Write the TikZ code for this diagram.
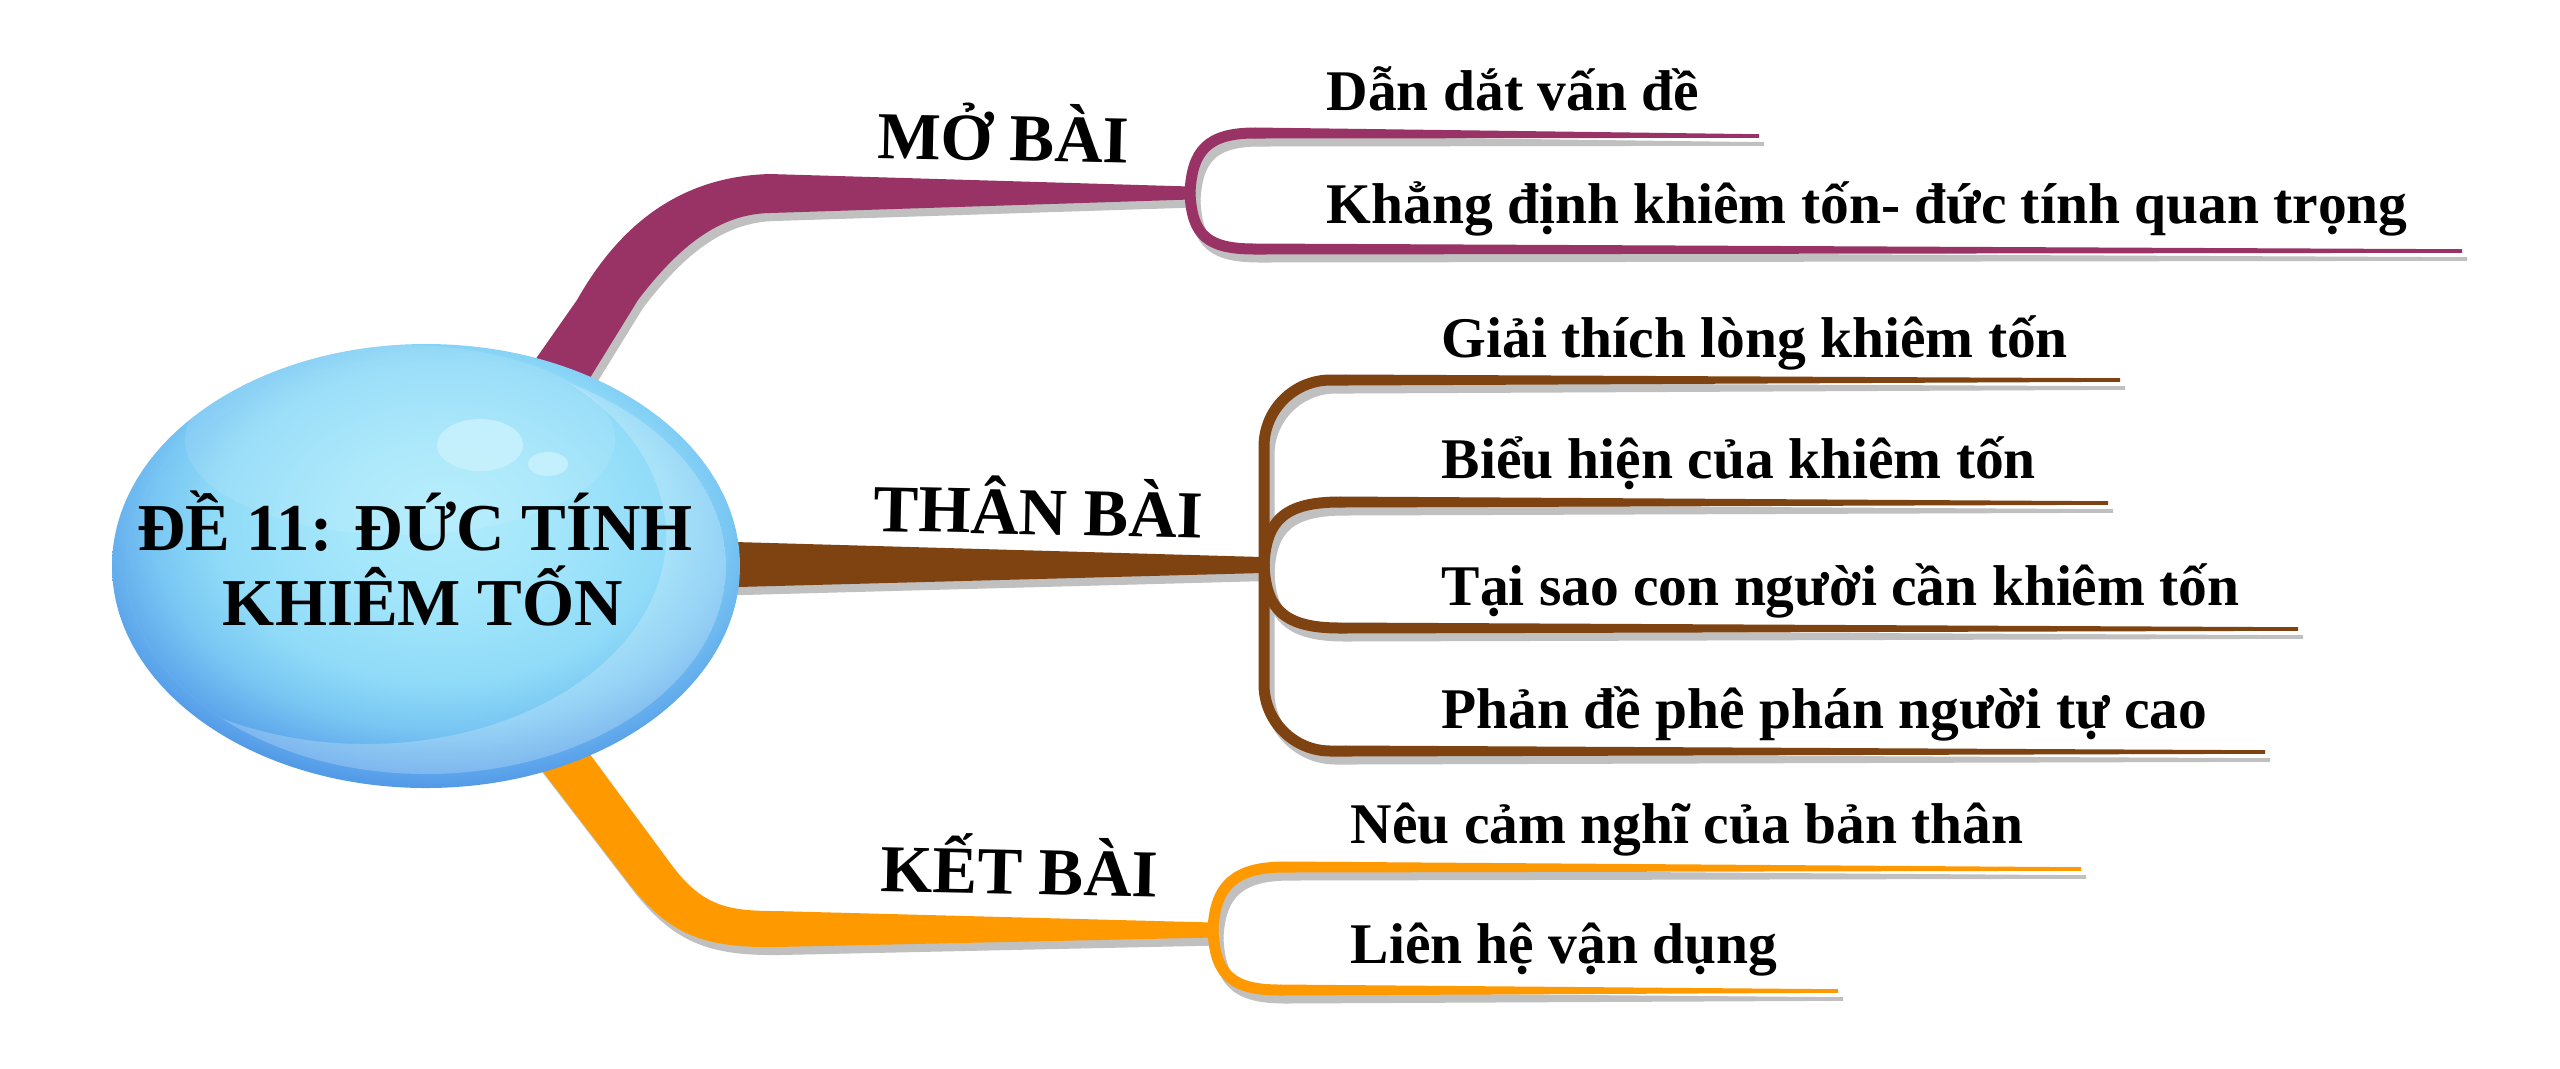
\documentclass[tikz,border=0pt]{standalone}
\usepackage{fontspec}
\setmainfont{Liberation Serif}
\usetikzlibrary{shapes.geometric,calc}
\definecolor{mag}{HTML}{993366}
\definecolor{brn}{HTML}{7F4311}
\definecolor{org}{HTML}{FF9900}
\definecolor{shd}{HTML}{C0C0C0}
\definecolor{hA}{HTML}{B0ECFC}
\definecolor{hB}{HTML}{A3E6FB}
\definecolor{hC}{HTML}{90DBF8}
\definecolor{hD}{HTML}{78C6F3}
\definecolor{hE}{HTML}{5AA2EA}
\definecolor{hF}{HTML}{3C80DD}
\definecolor{hl}{HTML}{C8F2FD}
\pgfdeclareradialshading{hubshade}{\pgfpoint{1.5bp}{6bp}}{color(0bp)=(hA); color(9bp)=(hB); color(18bp)=(hC); color(23bp)=(hD); color(28bp)=(hE); color(33bp)=(hF); color(100bp)=(hF)}
\tikzset{
  hubtxt/.style={font=\fontsize{20.1}{22}\selectfont\bfseries, inner sep=0pt, anchor=base},
  brtxt/.style={font=\fontsize{20.1}{22}\selectfont\bfseries, inner sep=0pt, anchor=base west, rotate=-1.2},
  subtxt/.style={font=\fontsize{17.25}{20}\selectfont\bfseries, inner sep=0pt, anchor=base west},
  shadowlayer/.style={transform canvas={shift={(1.5pt,-2.4pt)}}},
}
% #1 colour, #2 fork, #3 path between, #4 start of straight part, #5 end
\newcommand\subln[5]{%
  \draw[#1, line width=3.3pt, line cap=round] (#2) #3 (#4);
  \fill[#1] ($(#4)+(0,-5.5)$) -- ($(#5)+(0,-1.8)$) -- ($(#5)+(0,1.8)$) -- ($(#4)+(0,5.5)$) -- cycle;
}
\newcommand\allbranches[3]{%
  % MO BAI band
  \fill[#1] (500,410) -- (577,300) .. controls (625,215) and (690,176) .. (770,174)
     -- ($(F1)+(0,-6.5)$) -- ($(F1)+(0,6.5)$) -- (770,213)
     .. controls (720,214) and (680,245) .. (638,300) -- (564,420) -- cycle;
  \subln{#1}{F1}{.. controls (1192,150) and (1208,133) ..}{m1a}{m1b}
  \subln{#1}{F1}{.. controls (1192,236) and (1208,249) ..}{m2a}{m2b}
  % THAN BAI band
  \fill[#2] (700,541) -- ($(F2)+(-2,-8)$) -- ($(F2)+(-2,8)$) -- (700,588) -- cycle;
  \subln{#2}{F2}{[rounded corners=20pt] -- (1264,380) --}{t1a}{t1b}
  \subln{#2}{F2}{.. controls (1266,520) and (1285,502) ..}{t2a}{t2b}
  \subln{#2}{F2}{.. controls (1266,610) and (1285,628) ..}{t3a}{t3b}
  \subln{#2}{F2}{[rounded corners=20pt] -- (1264,751) --}{t4a}{t4b}
  % KET BAI band
  \fill[#3] (550,700) -- (668,860) .. controls (700,905) and (725,911) .. (775,911)
     -- ($(F3)+(0,-7.5)$) -- ($(F3)+(0,7.5)$) -- (775,947)
     .. controls (705,948) and (670,935) .. (630,885) -- (488,700) -- cycle;
  \subln{#3}{F3}{.. controls (1215,885) and (1235,867) ..}{k1a}{k1b}
  \subln{#3}{F3}{.. controls (1215,975) and (1232,990) ..}{k2a}{k2b}
}
\begin{document}
\begin{tikzpicture}[x=0.3pt,y=-0.3pt]
\useasboundingbox (0,0) rectangle (2560,1068);
\fill[white] (0,0) rectangle (2560,1068);
% forks and line ends
\coordinate (F1) at (1190,193);
\coordinate (m1a) at (1255,133); \coordinate (m1b) at (1759,136);
\coordinate (m2a) at (1255,249); \coordinate (m2b) at (2462,251);
\coordinate (F2) at (1264,565);
\coordinate (t1a) at (1345,380); \coordinate (t1b) at (2120,380);
\coordinate (t2a) at (1340,502); \coordinate (t2b) at (2108,503);
\coordinate (t3a) at (1340,628); \coordinate (t3b) at (2298,629);
\coordinate (t4a) at (1345,751); \coordinate (t4b) at (2265,752);
\coordinate (F3) at (1213,930);
\coordinate (k1a) at (1285,867); \coordinate (k1b) at (2081,869);
\coordinate (k2a) at (1280,990); \coordinate (k2b) at (1838,991);
% shadows
\begin{scope}[shadowlayer]
  \allbranches{shd}{shd}{shd}
\end{scope}
% coloured branches
\allbranches{mag}{brn}{org}
% central bubble
\node[ellipse, minimum width=188.4pt, minimum height=133.2pt, inner sep=0pt, shading=hubshade] (hub) at (426,566) {};
\begin{scope}
  \clip (426,566) ellipse [x radius=314, y radius=222];
  \fill[white, opacity=0.10] (400,440) ellipse [x radius=215, y radius=95];
  \begin{scope}
    \clip (426,566) ellipse [x radius=300, y radius=208];
    \fill[white, opacity=0.22, even odd rule] (426,566) ellipse [x radius=300, y radius=208]
      (366,536) ellipse [x radius=300, y radius=208];
  \end{scope}
  \fill[hl, opacity=0.85] (480,445) ellipse [x radius=43, y radius=26];
  \fill[hl, opacity=0.85] (548,464) ellipse [x radius=20, y radius=12];
\end{scope}
\node[hubtxt] (title1) at (415,550) {ĐỀ 11: ĐỨC TÍNH};
\node[hubtxt] (title2) at (423,625) {KHIÊM TỐN};
% branch labels
\node[brtxt] (mo) at (877,158) {MỞ BÀI};
\node[brtxt] (than) at (873,531) {THÂN BÀI};
\node[brtxt] (ket) at (880,891) {KẾT BÀI};
% sub labels
\node[subtxt] (s1) at (1326,110) {Dẫn dắt vấn đề};
\node[subtxt] (s2) at (1326,223) {Khẳng định khiêm tốn- đức tính quan trọng};
\node[subtxt] (s3) at (1441,357) {Giải thích lòng khiêm tốn};
\node[subtxt] (s4) at (1441,478) {Biểu hiện của khiêm tốn};
\node[subtxt] (s5) at (1441,605) {Tại sao con người cần khiêm tốn};
\node[subtxt] (s6) at (1441,728) {Phản đề phê phán người tự cao};
\node[subtxt] (s7) at (1350,843) {Nêu cảm nghĩ của bản thân};
\node[subtxt] (s8) at (1350,963) {Liên hệ vận dụng};
\end{tikzpicture}
\end{document}
